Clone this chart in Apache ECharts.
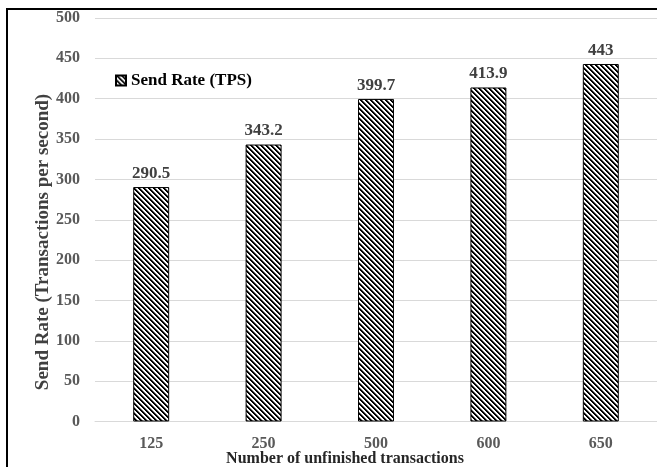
<!DOCTYPE html>
<html>
<head>
<meta charset="utf-8">
<script src="https://cdn.jsdelivr.net/npm/echarts@6/dist/echarts.min.js"></script>
<style>
html,body{margin:0;padding:0;background:#fff;}
#chart{width:657px;height:467px;}
</style>
</head>
<body>
<div id="chart"></div>
<script>
const categories = ['125', '250', '500', '600', '650'];
const sendRate = [290.5, 343.2, 399.7, 413.9, 443];
const seriesName = 'Send Rate (TPS)';
const xAxisTitle = 'Number of unfinished transactions';
const yAxisTitle = 'Send Rate (Transactions per second)';

function makeHatch() {
  const p = 5;
  const c = document.createElement('canvas');
  c.width = p; c.height = p;
  const ctx = c.getContext('2d');
  const img = ctx.createImageData(p, p);
  for (let y = 0; y < p; y++) {
    for (let x = 0; x < p; x++) {
      const k = ((x - y) % p + p) % p;
      let v = 255;
      if (k < 2) v = 0; else if (k === 2) v = 128;
      const i = (y * p + x) * 4;
      img.data[i] = v; img.data[i + 1] = v; img.data[i + 2] = v; img.data[i + 3] = 255;
    }
  }
  ctx.putImageData(img, 0, 0);
  return c;
}
const hatch = { image: makeHatch(), repeat: 'repeat' };
const font = '"Liberation Serif", "Times New Roman", serif';

const chart = echarts.init(document.getElementById('chart'));
chart.setOption({
  backgroundColor: '#fff',
  animation: false,
  grid: { left: 95, right: -5, top: 18, bottom: 45.5, containLabel: false },
  title: {
    text: xAxisTitle,
    left: 345, top: 451, textAlign: 'center',
    textStyle: { fontFamily: font, fontWeight: 'bold', fontSize: 16, color: '#262626' },
    padding: 0
  },
  legend: {
    show: true,
    left: 110, top: 67,
    itemWidth: 10, itemHeight: 10, itemGap: 6,
    textStyle: { fontFamily: font, fontWeight: 'bold', fontSize: 17, color: '#000' },
    data: [{ name: seriesName, icon: 'rect' }]
  },
  xAxis: {
    type: 'category',
    data: categories,
    axisLine: { show: true, lineStyle: { color: '#d9d9d9', width: 1 } },
    axisTick: { show: false },
    axisLabel: { fontFamily: font, fontWeight: 'bold', fontSize: 16, color: '#595959', margin: 14 }
  },
  yAxis: {
    type: 'value',
    min: 0, max: 500, interval: 50,
    axisLine: { show: false },
    axisTick: { show: false },
    splitLine: { lineStyle: { color: '#d9d9d9', width: 1 } },
    axisLabel: { fontFamily: font, fontWeight: 'bold', fontSize: 16, color: '#595959', margin: 15 }
  },
  series: [{
    name: seriesName,
    type: 'bar',
    data: sendRate,
    barWidth: '32%',
    itemStyle: { color: hatch, borderColor: '#000', borderWidth: 1 },
    label: {
      show: true, position: 'top', distance: 5,
      fontFamily: font, fontWeight: 'bold', fontSize: 17, color: '#404040'
    }
  }],
  graphic: [{
    type: 'text',
    x: 43, y: 242,
    rotation: Math.PI / 2,
    style: {
      text: yAxisTitle,
      fontFamily: font, fontWeight: 'bold', fontSize: 19, fill: '#404040',
      align: 'center', verticalAlign: 'middle'
    },
    silent: true
  }, {
    type: 'rect',
    shape: { x: 7, y: 9, width: 700, height: 500 },
    style: { fill: null, stroke: '#000', lineWidth: 2 },
    silent: true, z: 100
  }]
});
</script>
</body>
</html>
